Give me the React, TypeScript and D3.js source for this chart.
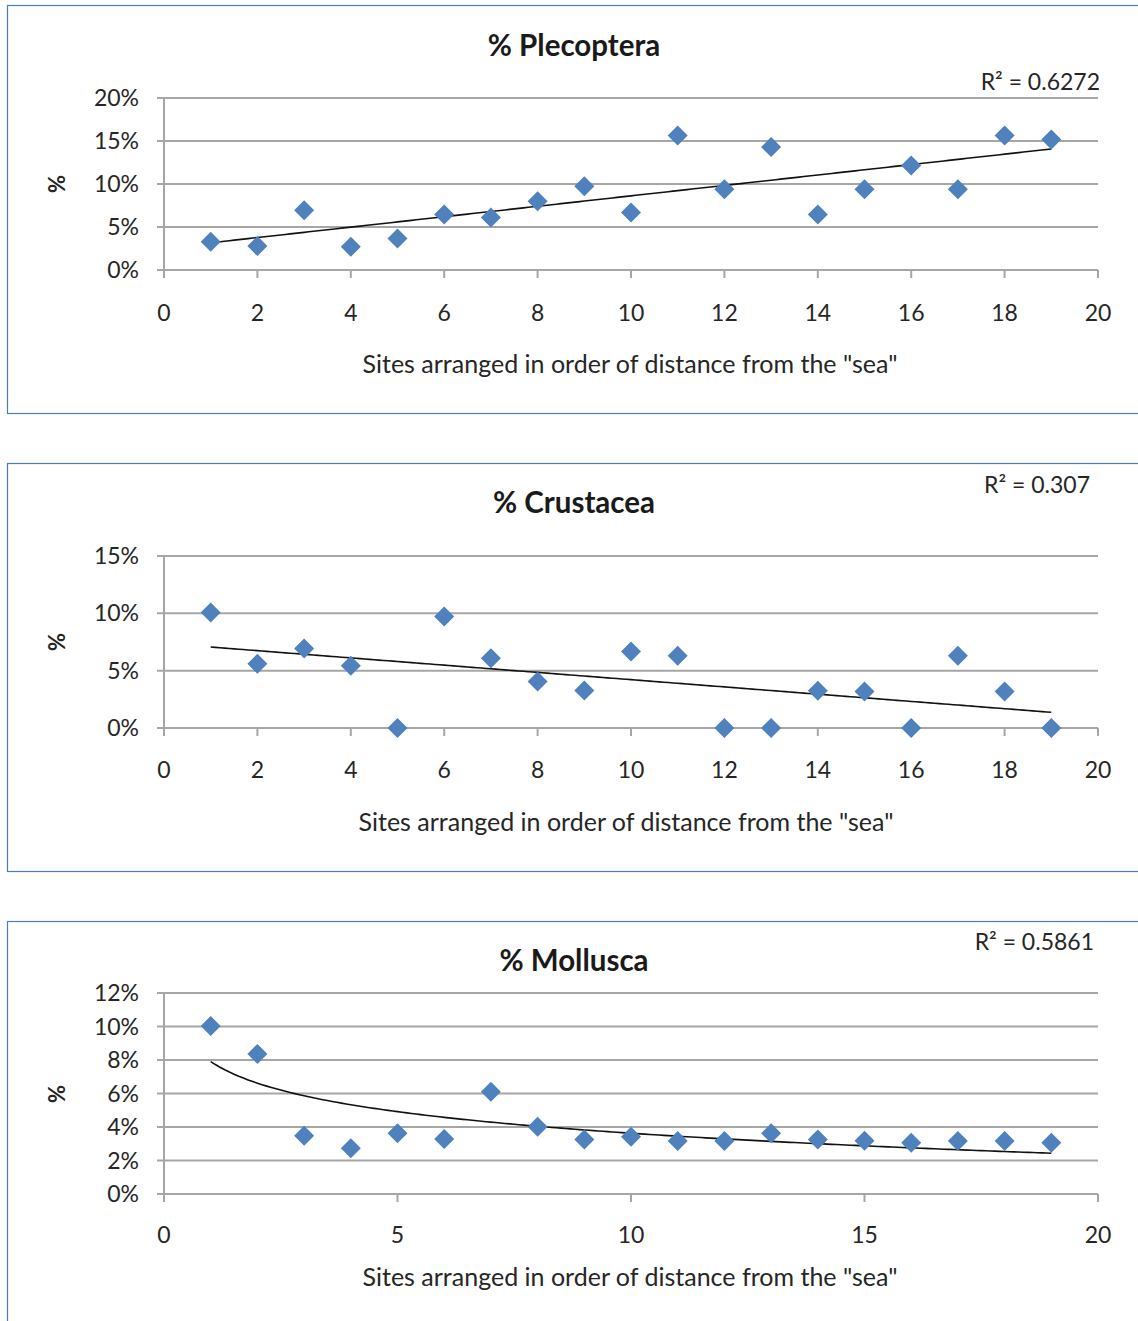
import React from "react";
import * as d3 from "d3";

const sites = [1, 2, 3, 4, 5, 6, 7, 8, 9, 10, 11, 12, 13, 14, 15, 16, 17, 18, 19];
const plecoptera = [3.28, 2.78, 6.95, 2.7, 3.67, 6.45, 6.1, 7.99, 9.73, 6.68, 15.64, 9.38, 14.29, 6.45, 9.38, 12.16, 9.38, 15.64, 15.17];
const crustacea = [10.07, 5.6, 6.94, 5.43, 0, 9.72, 6.09, 4.06, 3.28, 6.67, 6.3, 0, 0, 3.25, 3.19, 0, 6.3, 3.19, 0];
const mollusca = [10.03, 8.36, 3.48, 2.73, 3.62, 3.28, 6.11, 4.02, 3.26, 3.42, 3.16, 3.16, 3.62, 3.26, 3.18, 3.06, 3.16, 3.16, 3.06];

const titles = ["% Plecoptera", "% Crustacea", "% Mollusca"];
const r2Labels = ["R\u00b2 = 0.6272", "R\u00b2 = 0.307", "R\u00b2 = 0.5861"];
const trendTypes = ["linear", "linear", "log"];
const yMaxes = [20, 15, 12];
const yStepList = [5, 5, 2];
const xStepList = [2, 2, 5];
const xAxisTitle = 'Sites arranged in order of distance from the "sea"';
const yAxisTitle = "%";

const FONT = "Lato, 'Open Sans', sans-serif";
const BLUE = "#4f81bd";
const GRID = "#a6a6a6";

type Layout = {
  boxY: number; boxH: number; top: number; bottom: number;
  titleY: number; r2X: number; r2Y: number; yLabY: number; xTickY: number; xTitleY: number; xTitleX: number;
};

const layouts: Layout[] = [
  { boxY: 5.5, boxH: 408, top: 98, bottom: 270, titleY: 46, r2X: 1100, r2Y: 82, yLabY: 184, xTickY: 313, xTitleY: 364, xTitleX: 630 },
  { boxY: 463.5, boxH: 408, top: 556, bottom: 728, titleY: 503, r2X: 1090, r2Y: 485, yLabY: 642, xTickY: 770, xTitleY: 822, xTitleX: 626 },
  { boxY: 921.5, boxH: 420, top: 993, bottom: 1194, titleY: 961, r2X: 1094, r2Y: 942, yLabY: 1094, xTickY: 1235, xTitleY: 1277, xTitleX: 630 },
];

function fit(xs: number[], ys: number[], type: string) {
  const tx = type === "log" ? xs.map((v) => Math.log(v)) : xs;
  const mx = d3.mean(tx)!;
  const my = d3.mean(ys)!;
  let sxy = 0, sxx = 0;
  tx.forEach((v, i) => { sxy += (v - mx) * (ys[i] - my); sxx += (v - mx) * (v - mx); });
  const b = sxy / sxx;
  const a = my - b * mx;
  return (x: number) => a + b * (type === "log" ? Math.log(x) : x);
}

const X0 = 164, X1 = 1098;

function Panel({ idx, values }: { idx: number; values: number[] }) {
  const L = layouts[idx];
  const x = d3.scaleLinear().domain([0, 20]).range([X0, X1]);
  const y = d3.scaleLinear().domain([0, yMaxes[idx]]).range([L.bottom, L.top]);
  const yTicks = d3.range(0, yMaxes[idx] + 0.001, yStepList[idx]);
  const xTicks = d3.range(0, 20.001, xStepList[idx]);
  const f = fit(sites, values, trendTypes[idx]);
  const samples = d3.range(1, 19.0001, 0.1);
  const line = d3.line<number>().x((s) => x(s)).y((s) => y(f(s)));
  const D = 10;
  return (
    <g>
      <rect x={7.5} y={L.boxY} width={1140} height={L.boxH} fill="white" stroke="#4a7ebb" strokeWidth={1.2} />
      {yTicks.map((t) => (
        <g key={"y" + t}>
          <line x1={X0 - 7} x2={X1} y1={y(t)} y2={y(t)} stroke={GRID} strokeWidth={2} />
          <text x={139} y={y(t)} dy="0.35em" textAnchor="end" fontFamily={FONT} fontSize={23} fill="#262626">{t + "%"}</text>
        </g>
      ))}
      <line x1={X0} x2={X0} y1={L.top} y2={L.bottom + 8} stroke={GRID} strokeWidth={2} />
      {xTicks.map((t) => (
        <g key={"x" + t}>
          <line x1={x(t)} x2={x(t)} y1={L.bottom} y2={L.bottom + 8} stroke={GRID} strokeWidth={2} />
          <text x={x(t)} y={L.xTickY} dy="0.35em" textAnchor="middle" fontFamily={FONT} fontSize={23} fill="#262626">{t}</text>
        </g>
      ))}
      <path d={line(samples) || ""} fill="none" stroke="#111" strokeWidth={1.6} />
      {values.map((v, i) => (
        <path key={i} d={`M${x(sites[i])},${y(v) - D}L${x(sites[i]) + D},${y(v)}L${x(sites[i])},${y(v) + D}L${x(sites[i]) - D},${y(v)}Z`} fill={BLUE} />
      ))}
      <text x={574} y={L.titleY} dy="0.35em" textAnchor="middle" fontFamily={FONT} fontWeight="bold" fontSize={29.5} fill="#1a1a1a">{titles[idx]}</text>
      <text x={L.r2X} y={L.r2Y} dy="0.35em" textAnchor="end" fontFamily={FONT} fontSize={23} fill="#262626">{r2Labels[idx]}</text>
      <text transform={`translate(57,${L.yLabY}) rotate(-90)`} dy="0.35em" textAnchor="middle" fontFamily={FONT} fontWeight="bold" fontSize={22} fill="#262626">{yAxisTitle}</text>
      <text x={L.xTitleX} y={L.xTitleY} dy="0.35em" textAnchor="middle" fontFamily={FONT} fontSize={25} fill="#262626">{xAxisTitle}</text>
    </g>
  );
}

export default function App() {
  const series = [plecoptera, crustacea, mollusca];
  return (
    <div style={{ position: "absolute", left: 0, top: 0 }}>
      <svg width={1138} height={1321} style={{ display: "block", background: "white" }}>
        {series.map((s, i) => (
          <Panel key={i} idx={i} values={s} />
        ))}
      </svg>
    </div>
  );
}
